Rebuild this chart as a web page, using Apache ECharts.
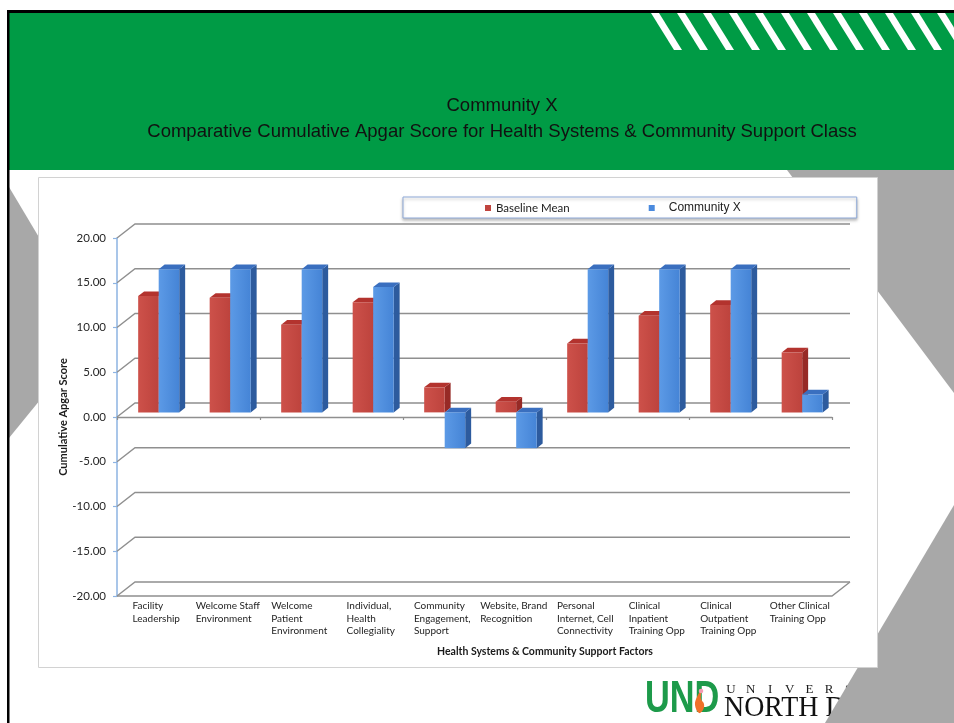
<!DOCTYPE html>
<html>
<head>
<meta charset="utf-8">
<title>Community X – Cumulative Apgar Score</title>
<script src="https://cdn.jsdelivr.net/npm/echarts@6/dist/echarts.min.js"></script>
<style>
  html, body { margin: 0; padding: 0; background: #ffffff; }
  #chart { width: 954px; height: 723px; }
</style>
</head>
<body>
<div id="chart"></div>
<script>
// ---- data ----
const categories = [
  'Facility\nLeadership',
  'Welcome Staff\nEnvironment',
  'Welcome\nPatient\nEnvironment',
  'Individual,\nHealth\nCollegiality',
  'Community\nEngagement,\nSupport',
  'Website, Brand\nRecognition',
  'Personal\nInternet, Cell\nConnectivity',
  'Clinical\nInpatient\nTraining Opp',
  'Clinical\nOutpatient\nTraining Opp',
  'Other Clinical\nTraining Opp'
];
const baselineMean = [13.0, 12.8, 9.8, 12.3, 2.8, 1.2, 7.7, 10.8, 12.0, 6.7];
const communityX   = [16.0, 16.0, 16.0, 14.0, -4.0, -4.0, 16.0, 16.0, 16.0, 2.0];
const yTicks = [-20, -15, -10, -5, 0, 5, 10, 15, 20];
const seriesNames = ['Baseline Mean', 'Community X'];

// ---- pseudo-3D geometry (depth of the plot box in screen pixels) ----
const DEPTH_X = 18, DEPTH_Y = -14;
const NEAR = 0.33, FAR = 0.66;      // bar front / back as fraction of depth
const BAR_FRAC = 0.287;             // single bar width as fraction of band

const FACES = [
  { front: ['#cd514a', '#bd433d'], side: '#972a26', top: '#b3332e' },
  { front: ['#5c9ae6', '#4584d6'], side: '#2d5b9e', top: '#3a6fbf' }
];

function barRenderer(slot) {
  const c = FACES[slot];
  return function (params, api) {
    const idx = api.value(0), val = api.value(1);
    const base = api.coord([idx, 0]);
    const tip = api.coord([idx, val]);
    const band = api.size([1, 0])[0];
    const bw = band * BAR_FRAC;
    const xl = base[0] + (slot === 0 ? -bw : 0);
    const xr = xl + bw;
    const ax = DEPTH_X * NEAR, ay = DEPTH_Y * NEAR;
    const bx = DEPTH_X * FAR, by = DEPTH_Y * FAR;
    const yHi = Math.min(base[1], tip[1]);
    const yLo = Math.max(base[1], tip[1]);
    return {
      type: 'group',
      children: [
        { type: 'polygon',
          shape: { points: [[xr + ax, yHi + ay], [xr + bx, yHi + by], [xr + bx, yLo + by], [xr + ax, yLo + ay]] },
          style: { fill: c.side } },
        { type: 'polygon',
          shape: { points: [[xl + ax, yHi + ay], [xr + ax, yHi + ay], [xr + bx, yHi + by], [xl + bx, yHi + by]] },
          style: { fill: c.top } },
        { type: 'rect',
          shape: { x: xl + ax, y: yHi + ay, width: bw, height: yLo - yHi },
          style: { fill: {
            type: 'linear', x: 0, y: 0, x2: 1, y2: 0,
            colorStops: [{ offset: 0, color: c.front[0] }, { offset: 1, color: c.front[1] }] } } }
      ]
    };
  };
}

// back wall gridlines, left wall diagonals and the floor
function wallRenderer(params, api) {
  const v = api.value(1);
  const cs = params.coordSys;
  const y = api.coord([0, v])[1];
  const x0 = cs.x, x1 = cs.x + cs.width;
  const line = { stroke: '#8f8f8f', lineWidth: 1.4, fill: null };
  const children = [{
    type: 'polyline',
    shape: { points: [[x0, y], [x0 + DEPTH_X, y + DEPTH_Y], [x1 + DEPTH_X, y + DEPTH_Y]] },
    style: line
  }];
  if (v === yTicks[0]) {
    children.push({
      type: 'polyline',
      shape: { points: [[x0, y], [x1, y], [x1 + DEPTH_X, y + DEPTH_Y]] },
      style: line
    });
  }
  return { type: 'group', children };
}

const labelFont = 'Lato';
const chart = echarts.init(document.getElementById('chart'), null, { renderer: 'canvas' });

// slide decoration
const stripes = [];
for (let k = 0; k < 12; k++) {
  const x = 651 + 26 * k;
  stripes.push({ type: 'polygon', z: -2,
    shape: { points: [[x, 13], [x + 8, 13], [x + 31, 50], [x + 23, 50]] },
    style: { fill: '#ffffff' } });
}
const univLetters = 'UNIVERSITY';
const univText = [];
for (let k = 0; k < univLetters.length; k++) {
  univText.push({ type: 'text', z: -6,
    style: { x: 731 + 19.6 * k, y: 690, text: univLetters[k], fill: '#1a1a1a',
      font: '13px "Liberation Serif"', align: 'center', verticalAlign: 'middle' } });
}

chart.setOption({
  animation: false,
  backgroundColor: '#ffffff',
  graphic: { elements: [
    // gray chevrons behind the panel
    { type: 'polygon', z: -4, shape: { points: [[9, 187], [40, 239], [40, 400], [9, 438]] }, style: { fill: '#a8a8a8' } },
    { type: 'polygon', z: -4, shape: { points: [[787, 170], [954, 170], [954, 393]] }, style: { fill: '#a8a8a8' } },
    // logo
    { type: 'text', z: -6, x: 645, y: 700, scaleX: 0.78,
      style: { x: 0, y: 0, text: 'UND', fill: '#1d9a4a', font: 'bold 44px "Liberation Sans"',
        align: 'left', verticalAlign: 'middle' } },
    { type: 'polygon', z: -5,
      shape: { points: [[699, 713], [695, 705], [697, 697], [701, 691], [701, 699], [704, 704], [703, 710]], smooth: 0.4 },
      style: { fill: '#f07028' } },
    { type: 'circle', z: -5, shape: { cx: 701, cy: 691, r: 2.3 }, style: { fill: '#f39ab0' } },
    ...univText,
    { type: 'text', z: -6, x: 724, y: 708, scaleX: 0.93,
      style: { x: 0, y: 0, text: 'NORTH DAKOTA', fill: '#111111', font: '30px "Liberation Serif"',
        align: 'left', verticalAlign: 'middle' } },
    { type: 'polygon', z: -4, shape: { points: [[954, 505], [954, 723], [825, 723]] }, style: { fill: '#a8a8a8' } },
    // chart panel
    { type: 'rect', z: -3, shape: { x: 38.5, y: 177.5, width: 839, height: 490 },
      style: { fill: '#ffffff', stroke: '#d2d2d2', lineWidth: 1 } },
    // header band
    { type: 'rect', z: -3, shape: { x: 9, y: 13, width: 945, height: 157 }, style: { fill: '#009b45' } },
    ...stripes,
    { type: 'rect', z: -1, shape: { x: 7, y: 10, width: 947, height: 3 }, style: { fill: '#000000' } },
    { type: 'rect', z: -1, shape: { x: 7, y: 10, width: 2.5, height: 713 }, style: { fill: '#000000' } },
    // header titles
    { type: 'text', z: 1,
      style: { x: 502, y: 106, text: 'Community X', fill: '#111111',
        font: '18.5px "Liberation Sans"', align: 'center', verticalAlign: 'middle' } },
    { type: 'text', z: 1,
      style: { x: 502, y: 132, text: 'Comparative Cumulative Apgar Score for Health Systems & Community Support Class',
        fill: '#111111', font: '18.5px "Liberation Sans"', align: 'center', verticalAlign: 'middle' } }
  ] },
  legend: {
    data: [
      { name: seriesNames[0], textStyle: { fontFamily: labelFont, fontSize: 11.5 } },
      { name: seriesNames[1], textStyle: { fontFamily: 'Liberation Sans', fontSize: 12, padding: [0, 0, 0, 9] } }
    ],
    left: 403, top: 197,
    padding: [5, 116, 4, 82],
    itemGap: 79, itemWidth: 6, itemHeight: 6, icon: 'rect',
    borderColor: '#8ea9d8', borderWidth: 1, borderRadius: 0,
    backgroundColor: '#ffffff',
    shadowColor: 'rgba(0,0,0,0.25)', shadowBlur: 3, shadowOffsetY: 2,
    textStyle: { color: '#222222' },
    selectedMode: false
  },
  grid: { left: 117, top: 238, width: 715, height: 358 },
  xAxis: [{
    type: 'category', data: categories, position: 'bottom',
    axisLine: { show: false, onZero: false },
    axisTick: { show: false },
    splitLine: { show: false },
    axisLabel: {
      interval: 0, margin: 4, padding: [0, 0, 0, 7],
      formatter: v => v.split('\n').map(s => '{l|' + s + '}').join('\n'),
      rich: { l: { fontFamily: labelFont, fontSize: 10, lineHeight: 12.5, color: '#1e1e1e', align: 'left' } }
    },
    name: 'Health Systems & Community Support Factors',
    nameLocation: 'middle', nameGap: 50, nameMoveOverlap: false,
    nameTextStyle: { fontFamily: labelFont, fontWeight: 'bold', fontSize: 10.5, color: '#1a1a1a',
      padding: [0, 0, 0, 141] }
  }, {
    type: 'category', data: categories, position: 'bottom',
    axisLine: { show: true, onZero: true, lineStyle: { color: '#8f8f8f', width: 1.4 } },
    axisTick: { show: true, length: 3, lineStyle: { color: '#8f8f8f', width: 1.2 } },
    axisLabel: { show: false },
    splitLine: { show: false }
  }],
  yAxis: {
    type: 'value', min: -20, max: 20, interval: 5,
    axisLine: { show: true, lineStyle: { color: '#8db3e2', width: 1.5 } },
    axisTick: { show: true, length: 4, lineStyle: { color: '#8db3e2', width: 1.2 } },
    splitLine: { show: false },
    axisLabel: { formatter: v => v.toFixed(2), fontFamily: labelFont, fontSize: 11.5, color: '#262626', margin: 11 },
    name: 'Cumulative Apgar Score',
    nameLocation: 'middle', nameGap: 48, nameMoveOverlap: false,
    nameTextStyle: { fontFamily: labelFont, fontWeight: 'bold', fontSize: 11, color: '#1a1a1a' }
  },
  series: [
    { type: 'custom', silent: true, z: 1, xAxisIndex: 0,
      data: yTicks.map(v => [0, v]), encode: { x: 0, y: 1 },
      renderItem: wallRenderer },
    { type: 'custom', name: seriesNames[0], z: 3, xAxisIndex: 0,
      itemStyle: { color: '#c0443e' },
      data: baselineMean.map((v, i) => [i, v]), encode: { x: 0, y: 1 },
      renderItem: barRenderer(0) },
    { type: 'custom', name: seriesNames[1], z: 4, xAxisIndex: 0,
      itemStyle: { color: '#4a8ade' },
      data: communityX.map((v, i) => [i, v]), encode: { x: 0, y: 1 },
      renderItem: barRenderer(1) }
  ]
});
</script>
</body>
</html>
